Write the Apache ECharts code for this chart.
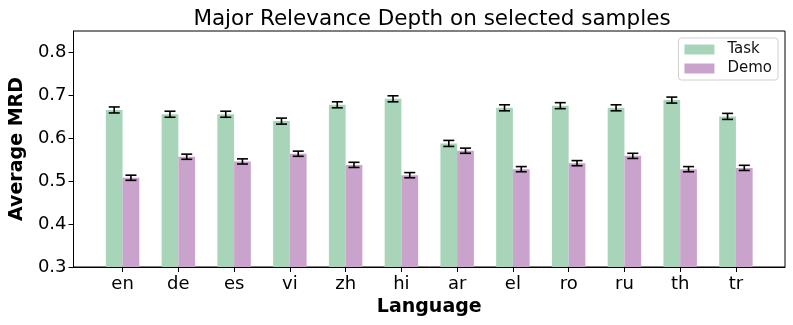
<!DOCTYPE html>
<html>
<head>
<meta charset="utf-8">
<script src="https://cdn.jsdelivr.net/npm/echarts@6/dist/echarts.min.js"></script>
<style>
  html, body { margin: 0; padding: 0; background: #fff; }
  #chart { width: 793px; height: 325px; }
</style>
</head>
<body>
<div id="chart"></div>
<script>
const languages = ['en', 'de', 'es', 'vi', 'zh', 'hi', 'ar', 'el', 'ro', 'ru', 'th', 'tr']
const taskMRD = [0.666, 0.656, 0.656, 0.640, 0.678, 0.692, 0.588, 0.671, 0.676, 0.671, 0.689, 0.651]
const taskErr = [0.007, 0.007, 0.007, 0.007, 0.007, 0.007, 0.007, 0.007, 0.007, 0.007, 0.007, 0.007]
const demoMRD = [0.508, 0.557, 0.546, 0.564, 0.538, 0.514, 0.571, 0.528, 0.542, 0.559, 0.528, 0.531]
const demoErr = [0.006, 0.006, 0.006, 0.006, 0.006, 0.006, 0.006, 0.006, 0.006, 0.006, 0.006, 0.006]
const yTicks = [0.3, 0.4, 0.5, 0.6, 0.7, 0.8]

const BAR_W = 0.3
const BASE = 0.3
const FONT = 'DejaVu Sans'

// bar + error bar drawn in one custom series, offset is the bar's left edge relative to the tick
function makeRender (offset, color) {
  return function (params, api) {
    let x = api.value(0)
    let y = api.value(1)
    let err = api.value(2)
    let p0 = api.coord([x + offset, y])
    let p1 = api.coord([x + offset + BAR_W, BASE])
    let hi = api.coord([x + offset + BAR_W / 2, y + err])
    let lo = api.coord([x + offset + BAR_W / 2, y - err])
    let cap = 5.5
    let line = { stroke: '#000', lineWidth: 1.6 }
    return {
      type: 'group',
      children: [
        {
          type: 'rect',
          shape: { x: p0[0], y: p0[1], width: p1[0] - p0[0], height: p1[1] - p0[1] },
          style: { fill: color }
        },
        { type: 'line', shape: { x1: hi[0], y1: hi[1], x2: lo[0], y2: lo[1] }, style: line, z2: 10 },
        { type: 'line', shape: { x1: hi[0] - cap, y1: hi[1], x2: hi[0] + cap, y2: hi[1] }, style: line, z2: 10 },
        { type: 'line', shape: { x1: lo[0] - cap, y1: lo[1], x2: lo[0] + cap, y2: lo[1] }, style: line, z2: 10 }
      ]
    }
  }
}

let chart = echarts.init(document.getElementById('chart'), null, { renderer: 'canvas' })
let option = {
  animation: false,
  backgroundColor: '#fff',
  title: {
    text: 'Major Relevance Depth on selected samples',
    left: 427,
    textAlign: 'center',
    top: 3,
    textStyle: { fontFamily: FONT, fontSize: 21.5, fontWeight: 'normal', color: '#000' }
  },
  legend: {
    data: ['Task', 'Demo'],
    orient: 'vertical',
    right: 15,
    top: 38,
    itemWidth: 30,
    itemHeight: 10,
    itemGap: 4,
    padding: [4, 6, 4, 6],
    borderColor: '#d0d0d0',
    borderWidth: 1,
    borderRadius: 3,
    icon: 'rect',
    textStyle: { fontFamily: FONT, fontSize: 15, color: '#111', padding: [0, 0, 0, 8] }
  },
  grid: {
    left: 68,
    right: 8,
    top: 31,
    bottom: 58,
    show: true,
    borderColor: '#000',
    borderWidth: 1
  },
  xAxis: {
    type: 'value',
    min: -0.88,
    max: 11.88,
    name: 'Language',
    nameLocation: 'middle',
    nameGap: 28,
    nameTextStyle: { fontFamily: FONT, fontSize: 19, fontWeight: 'bold', color: '#000' },
    splitLine: { show: false },
    axisLine: { show: true, onZero: false, lineStyle: { color: '#000', width: 1 } },
    axisTick: { show: true, length: 5, lineStyle: { color: '#000' }, customValues: languages.map((l, i) => i) },
    axisLabel: {
      customValues: languages.map((l, i) => i),
      formatter: v => languages[Math.round(v)],
      fontFamily: FONT,
      fontSize: 18,
      color: '#000',
      margin: 8
    }
  },
  yAxis: {
    type: 'value',
    min: 0.3,
    max: 0.85,
    name: 'Average MRD',
    nameLocation: 'middle',
    nameRotate: 90,
    nameGap: 42,
    nameTextStyle: { fontFamily: FONT, fontSize: 19, fontWeight: 'bold', color: '#000' },
    splitLine: { show: false },
    axisLine: { show: true, onZero: false, lineStyle: { color: '#000', width: 1 } },
    axisTick: { show: true, length: 5, lineStyle: { color: '#000' }, customValues: yTicks },
    axisLabel: {
      customValues: yTicks,
      formatter: v => v.toFixed(1),
      fontFamily: FONT,
      fontSize: 18,
      color: '#000',
      margin: 7
    }
  },
  series: [
    {
      name: 'Task',
      type: 'custom',
      itemStyle: { color: '#a8d5ba' },
      renderItem: makeRender(-BAR_W, '#a8d5ba'),
      data: taskMRD.map((v, i) => [i, v, taskErr[i]])
    },
    {
      name: 'Demo',
      type: 'custom',
      itemStyle: { color: '#c9a3cb' },
      renderItem: makeRender(0, '#c9a3cb'),
      data: demoMRD.map((v, i) => [i, v, demoErr[i]])
    }
  ]
}
chart.setOption(option)
</script>
</body>
</html>
